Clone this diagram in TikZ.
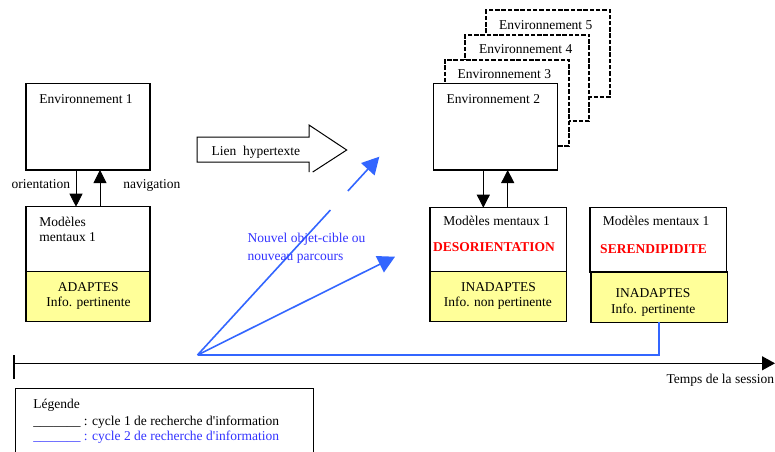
\documentclass[tikz,border=0pt]{standalone}
\usepackage{fontspec}
\setmainfont{Liberation Serif}[Ligatures=TeXOff]
\usetikzlibrary{arrows.meta,calc}
\definecolor{ylw}{RGB}{255,255,153}
\definecolor{bl}{RGB}{51,102,255}
\definecolor{bltxt}{RGB}{51,51,255}
\newcommand\myfs{\fontsize{13.5}{15}\selectfont}
\begin{document}
\begin{tikzpicture}[x=1pt,y=-1pt,
  box/.style={draw, line width=1.1pt, fill=white, inner sep=0pt, outer sep=0pt},
  ybox/.style={box, fill=ylw},
  envdash/.style={box, line width=1.9pt, dash pattern=on 4.5pt off 1.8pt},
  txt/.style={inner sep=0pt, outer sep=0pt, font=\myfs},
  redtxt/.style={txt, font=\myfs\bfseries, text=red},
  bluetxt/.style={txt, text=bltxt},
  arr/.style={line width=0.9pt, -{Triangle[length=13pt,width=13pt]}},
  barr/.style={draw=bl, line width=1.6pt, -{Triangle[length=17pt,width=18pt]}},
  bline/.style={draw=bl, line width=1.6pt}
]
\clip (0,0) rectangle (775,451);
\fill[white] (0,0) rectangle (775,451);

% Environment 1 and mental models 1
\node[box, minimum width=124pt, minimum height=86.7pt] (env1) at (88,126.65) {};
\node[txt, anchor=base west] (env1t) at (39.3,103.3) {Environnement 1};
\node[box, minimum width=124pt, minimum height=65pt] (mod1) at (88,239.2) {};
\node[ybox, minimum width=124pt, minimum height=50pt] (mod1y) at (88,296.7) {};
\node[txt, anchor=base west] (mod1a) at (39.3,226.7) {Modèles};
\node[txt, anchor=base west] (mod1b) at (39.3,241.7) {mentaux 1};
\node[txt, anchor=base] (mod1c) at (88.2,291.7) {ADAPTES};
\node[txt, anchor=base] (mod1d) at (88.5,306) {Info. pertinente};
\draw[arr] ([xshift=-12pt]env1.south) -- ([xshift=-12pt]mod1.north);
\draw[arr] ([xshift=12pt]mod1.north) -- ([xshift=12pt]env1.south);
\node[txt, anchor=base west] (orient) at (11.7,188.3) {orientation};
\node[txt, anchor=base west] (navig) at (123.3,188.3) {navigation};

% Lien hypertexte arrow
\draw[line width=1pt, line join=miter] (312.7,172) -- (346.7,150) -- (309,125) -- (309,137)
  -- (197,137) -- (197,162) -- (309,162) -- (309,172);
\node[txt, anchor=base west] (lien) at (211.7,155) {Lien\ \ hypertexte};

% Stacked environments
\node[envdash, minimum width=124pt, minimum height=86.5pt] (env5) at (548.4,53.4) {};
\node[txt, anchor=base west] (env5t) at (499,29) {Environnement 5};
\node[envdash, minimum width=124pt, minimum height=86.5pt] (env4) at (527.4,78) {};
\node[txt, anchor=base west] (env4t) at (479,53.5) {Environnement 4};
\node[envdash, minimum width=124pt, minimum height=86.5pt] (env3) at (506.7,102.9) {};
\node[txt, anchor=base west] (env3t) at (457.7,78.5) {Environnement 3};
\node[box, minimum width=124pt, minimum height=86.7pt] (env2) at (495.3,126.65) {};
\node[txt, anchor=base west] (env2t) at (446.7,103) {Environnement 2};

% Mental models 2
\node[box, minimum width=136.7pt, minimum height=64pt] (mod2) at (498.35,239.7) {};
\node[ybox, minimum width=136.7pt, minimum height=50pt] (mod2y) at (498.35,296.7) {};
\node[txt, anchor=base] (mod2a) at (496.7,225.7) {Modèles mentaux 1};
\node[redtxt, anchor=base] (mod2b) at (494,251.7) {DESORIENTATION};
\node[txt, anchor=base] (mod2c) at (498.5,291) {INADAPTES};
\node[txt, anchor=base] (mod2d) at (497.8,306.7) {Info. non pertinente};
\draw[arr] ([xshift=-12pt]env2.south) -- ([xshift=-12pt]env2.south |- mod2.north);
\draw[arr] ([xshift=12.4pt]env2.south |- mod2.north) -- ([xshift=12.4pt]env2.south);

% Mental models 3
\node[box, minimum width=136.7pt, minimum height=64.3pt] (mod3) at (658.35,239.85) {};
\node[ybox, minimum width=136.3pt, minimum height=50.3pt] (mod3y) at (659.15,297.15) {};
\node[txt, anchor=base] (mod3a) at (656.2,225.7) {Modèles mentaux 1};
\node[redtxt, anchor=base] (mod3b) at (653.5,253.3) {SERENDIPIDITE};
\node[txt, anchor=base] (mod3c) at (653,297.7) {INADAPTES};
\node[txt, anchor=base] (mod3d) at (653.3,313.3) {Info. pertinente};

% Blue cycle 2
\coordinate (O) at (197.5,355);
\coordinate (T1) at (379.3,156.7);
\coordinate (T2) at (395,256.7);
\draw[bline] (O) -- ($(O)!0.731!(T1)$);
\draw[barr] ($(O)!0.827!(T1)$) -- (T1);
\draw[barr] (O) -- (T2);
\draw[bline] (mod3y.south) |- (O);
\node[bluetxt, anchor=base west] (nv1) at (247.7,242.3) {Nouvel objet-cible ou};
\node[bluetxt, anchor=base west] (nv2) at (247.7,260) {nouveau parcours};

% Timeline
\coordinate (ts) at (14,363.3);
\coordinate (te) at (775,363.3);
\draw[line width=1.1pt, -{Triangle[length=13pt,width=14pt]}] (ts) -- (te);
\draw[line width=1.1pt] (14,355) -- (14,379.3);
\node[txt, anchor=base east] (temps) at (774,383.3) {Temps de la session};

% Legend
\node[box, minimum width=297.6pt, minimum height=81.7pt] (leg) at (164.5,429.15) {};
\node[txt, anchor=base west] (leg1) at (33.3,408.3) {Légende};
\node[txt, anchor=base west] (leg2) at (33.3,425) {\_\_\_\_\_\_\_ : cycle 1 de recherche d'information};
\node[bluetxt, anchor=base west] (leg3) at (33.3,440.7) {\_\_\_\_\_\_\_ : cycle 2 de recherche d'information};
\end{tikzpicture}
\end{document}
